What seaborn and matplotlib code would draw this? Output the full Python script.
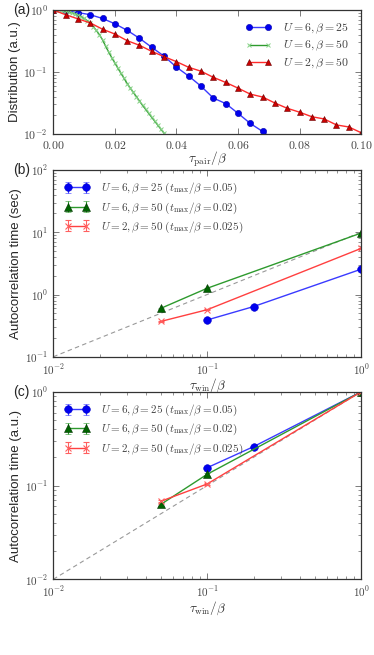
import numpy as np
import matplotlib
matplotlib.use("Agg")
import matplotlib.pyplot as plt
import seaborn as sns
from matplotlib.ticker import FuncFormatter, LogLocator, NullFormatter

# ---- panel (a): pair-distance distributions ----
tau_a_u6b25 = [0.000, 0.004, 0.008, 0.012, 0.016, 0.020, 0.024, 0.028, 0.032, 0.036,
               0.040, 0.044, 0.048, 0.052, 0.056, 0.060, 0.064, 0.068, 0.072]
dist_u6b25 = [1.0, 0.98, 0.91, 0.84, 0.73, 0.60, 0.47, 0.35, 0.25, 0.18,
              0.12, 0.086, 0.059, 0.038, 0.031, 0.0216, 0.0148, 0.011, 0.0078]

tau_a_u6b50 = [0.000, 0.001, 0.002, 0.003, 0.004, 0.005, 0.006, 0.007, 0.008, 0.009,
               0.010, 0.011, 0.012, 0.013, 0.014, 0.015, 0.016, 0.017, 0.018, 0.019,
               0.020, 0.021, 0.022, 0.023, 0.024, 0.025, 0.026, 0.027, 0.028, 0.029,
               0.030, 0.031, 0.032, 0.033, 0.034, 0.035, 0.036, 0.037]
dist_u6b50 = [1.0, 0.995, 0.986, 0.973, 0.955, 0.929, 0.902, 0.871, 0.832, 0.785,
              0.733, 0.676, 0.610, 0.537, 0.468, 0.398, 0.331, 0.26, 0.21, 0.17,
              0.14, 0.115, 0.095, 0.079, 0.065, 0.055, 0.047, 0.040, 0.034, 0.029,
              0.025, 0.0215, 0.0185, 0.016, 0.0138, 0.0119, 0.0103, 0.0089]

tau_a_u2b50 = [0.000, 0.004, 0.008, 0.012, 0.016, 0.020, 0.024, 0.028, 0.032, 0.036,
               0.040, 0.044, 0.048, 0.052, 0.056, 0.060, 0.064, 0.068, 0.072, 0.076,
               0.080, 0.084, 0.088, 0.092, 0.096, 0.100]
dist_u2b50 = [1.0, 0.84, 0.72, 0.62, 0.49, 0.41, 0.32, 0.27, 0.215, 0.177,
              0.147, 0.119, 0.103, 0.082, 0.068, 0.055, 0.044, 0.0395, 0.0316, 0.026,
              0.0225, 0.019, 0.0175, 0.014, 0.013, 0.0105]

# ---- panels (b) and (c): autocorrelation times ----
win_u6b25 = [0.1, 0.2, 1.0]
win_u6b50 = [0.05, 0.1, 1.0]
win_u2b50 = [0.05, 0.1, 1.0]

sec_u6b25 = [0.39, 0.64, 2.55]
sec_u6b50 = [0.60, 1.26, 9.7]
sec_u2b50 = [0.37, 0.57, 5.5]
err_sec_u6b25 = [0.01, 0.015, 0.05]
err_sec_u6b50 = [0.01, 0.03, 0.2]
err_sec_u2b50 = [0.01, 0.015, 0.12]

au_u6b25 = [0.155, 0.26, 1.0]
au_u6b50 = [0.063, 0.132, 1.0]
au_u2b50 = [0.068, 0.104, 1.0]
err_au_u6b25 = [0.004, 0.006, 0.02]
err_au_u6b50 = [0.002, 0.004, 0.02]
err_au_u2b50 = [0.002, 0.003, 0.02]

ref_x = [0.01, 1.0]
ref_sec = [0.1, 10.0]
ref_au = [0.01, 1.0]

labels_a = [r"$U=6,\beta=25$", r"$U=6,\beta=50$", r"$U=2,\beta=50$"]
labels_bc = [r"$U=6,\beta=25\ (t_{\rm max}/\beta=0.05)$",
             r"$U=6,\beta=50\ (t_{\rm max}/\beta=0.02)$",
             r"$U=2,\beta=50\ (t_{\rm max}/\beta=0.025)$"]

sns.set_theme(style="ticks")
plt.rcParams["font.family"] = ["Liberation Sans", "DejaVu Sans"]
plt.rcParams["mathtext.fontset"] = "cm"
plt.rcParams["xtick.direction"] = "in"
plt.rcParams["ytick.direction"] = "in"
plt.rcParams["xtick.top"] = True
plt.rcParams["ytick.right"] = True

fig = plt.figure(figsize=(3.74, 6.55), dpi=100)
L, W = 0.1425, 0.823
ax_a = fig.add_axes([L, 0.7954, W, 0.1893])
ax_b = fig.add_axes([L, 0.4553, W, 0.2852])
ax_c = fig.add_axes([L, 0.1156, W, 0.2862])

tick_col = "#444444"
log_fmt = FuncFormatter(lambda v, p: r"$10^{%d}$" % int(round(np.log10(v))))


def style_axes(ax, xpad, size):
    for s in ax.spines.values():
        s.set_color("#333333")
        s.set_linewidth(0.9)
    ax.tick_params(which="major", length=4, width=0.6, labelsize=size,
                   colors="#666666", labelcolor=tick_col)
    ax.tick_params(axis="x", which="major", pad=xpad)
    ax.tick_params(axis="y", which="major", pad=4)
    ax.tick_params(which="minor", length=2, width=0.5, colors="#666666")


# panel (a)
sns.lineplot(x=tau_a_u6b25, y=dist_u6b25, ax=ax_a, color="#3a3aff", lw=1.0,
             marker="o", markersize=4.5, markerfacecolor="#0000ee",
             markeredgecolor="#0000aa", markeredgewidth=0.4, label=labels_a[0])
sns.lineplot(x=tau_a_u6b50, y=dist_u6b50, ax=ax_a, color="#2e9a2e", lw=1.0,
             marker="x", markersize=3.5, markeredgecolor="#86d286",
             markeredgewidth=0.7, label=labels_a[1])
sns.lineplot(x=tau_a_u2b50, y=dist_u2b50, ax=ax_a, color="#ff2a2a", lw=1.0,
             marker="^", markersize=4.5, markerfacecolor="#cc0000",
             markeredgecolor="#660000", markeredgewidth=0.4, label=labels_a[2])
ax_a.set_yscale("log")
ax_a.set_xlim(0, 0.1)
ax_a.set_ylim(0.01, 1)
ax_a.xaxis.set_major_formatter(FuncFormatter(lambda v, p: r"$%.2f$" % v))
ax_a.yaxis.set_major_formatter(log_fmt)
ax_a.yaxis.set_minor_formatter(NullFormatter())
ax_a.set_xlabel(r"$\tau_{\rm pair}/\beta$", fontsize=9.5, labelpad=-1, color="#333333")
ax_a.set_ylabel("Distribution (a.u.)", fontsize=9.5, labelpad=2)
style_axes(ax_a, 4, 8.5)
ax_a.legend(loc="upper right", frameon=False, numpoints=2, fontsize=8.5,
            handlelength=2.2, handletextpad=1.0, labelspacing=0.25,
            borderaxespad=0.6, labelcolor="#444444")
fig.text(0.035, 0.985, "(a)", fontsize=10, va="center")


def panel_bc(ax, ys, errs, ref_y, ylim, ylabel, tag, ytext):
    ax.plot(ref_x, ref_y, ls=(0, (4, 3)), color="#999999", lw=0.8)
    ax.errorbar(win_u6b25, ys[0], yerr=errs[0], color="#3a3aff", lw=1.0,
                marker="o", markersize=5.5, markerfacecolor="#0000ee",
                markeredgecolor="#0000cc", markeredgewidth=0.4,
                ecolor="#3a3aff", elinewidth=0.8, capsize=2.5, label=labels_bc[0])
    ax.errorbar(win_u6b50, ys[1], yerr=errs[1], color="#2e9a2e", lw=1.0,
                marker="^", markersize=5.5, markerfacecolor="#006400",
                markeredgecolor="#003300", markeredgewidth=0.4,
                ecolor="#2e9a2e", elinewidth=0.8, capsize=2.5, label=labels_bc[1])
    ax.errorbar(win_u2b50, ys[2], yerr=errs[2], color="#ff4040", lw=1.0,
                marker="x", markersize=5, markeredgecolor="#ff6060",
                markeredgewidth=0.8, ecolor="#ff6060", elinewidth=0.8,
                capsize=2.5, label=labels_bc[2])
    ax.set_xscale("log")
    ax.set_yscale("log")
    ax.set_xlim(0.01, 1)
    ax.set_ylim(*ylim)
    ax.xaxis.set_major_formatter(log_fmt)
    ax.yaxis.set_major_formatter(log_fmt)
    ax.xaxis.set_minor_locator(LogLocator(subs=np.arange(2, 10)))
    ax.yaxis.set_minor_locator(LogLocator(subs=np.arange(2, 10)))
    ax.xaxis.set_minor_formatter(NullFormatter())
    ax.yaxis.set_minor_formatter(NullFormatter())
    ax.set_xlabel(r"$\tau_{\rm win}/\beta$", fontsize=9.5, labelpad=0, color="#333333")
    ax.set_ylabel(ylabel, fontsize=9.5, labelpad=2)
    style_axes(ax, 4, 8)
    ax.legend(loc="upper left", frameon=False, numpoints=2, fontsize=8,
              handlelength=2.2, handletextpad=1.1, labelspacing=0.35,
              borderaxespad=0.6, labelcolor="#444444")
    fig.text(0.035, ytext, tag, fontsize=10, va="center")


panel_bc(ax_b, [sec_u6b25, sec_u6b50, sec_u2b50],
         [err_sec_u6b25, err_sec_u6b50, err_sec_u2b50], ref_sec,
         (0.1, 100), "Autocorrelation time (sec)", "(b)", 0.741)
panel_bc(ax_c, [au_u6b25, au_u6b50, au_u2b50],
         [err_au_u6b25, err_au_u6b50, err_au_u2b50], ref_au,
         (0.01, 1), "Autocorrelation time (a.u.)", "(c)", 0.402)

fig.savefig("out.png", dpi=100)
